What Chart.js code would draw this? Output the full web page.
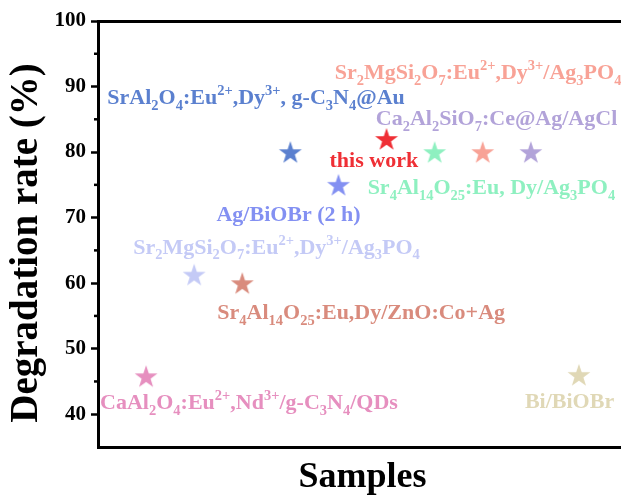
<!DOCTYPE html>
<html>
<head>
<meta charset="utf-8">
<script src="https://cdn.jsdelivr.net/npm/chart.js@4.4.0/dist/chart.umd.min.js"></script>
<style>
  html, body { margin: 0; padding: 0; background: #fff; overflow: hidden; }
  #wrap { width: 640px; height: 499px; }
</style>
</head>
<body>
<div id="wrap"><canvas id="chart" width="640" height="499"></canvas></div>
<script>
// sample names (_{..} = subscript, ^{..} = superscript)
const samples = [
  'CaAl_{2}O_{4}:Eu^{2+},Nd^{3+}/g-C_{3}N_{4}/QDs',
  'Sr_{2}MgSi_{2}O_{7}:Eu^{2+},Dy^{3+}/Ag_{3}PO_{4}',
  'Sr_{4}Al_{14}O_{25}:Eu,Dy/ZnO:Co+Ag',
  'SrAl_{2}O_{4}:Eu^{2+},Dy^{3+}, g-C_{3}N_{4}@Au',
  'Ag/BiOBr (2 h)',
  'this work',
  'Sr_{4}Al_{14}O_{25}:Eu, Dy/Ag_{3}PO_{4}',
  'Sr_{2}MgSi_{2}O_{7}:Eu^{2+},Dy^{3+}/Ag_{3}PO_{4}',
  'Ca_{2}Al_{2}SiO_{7}:Ce@Ag/AgCl',
  'Bi/BiOBr'
];
const sampleIndex = [1, 2, 3, 4, 5, 6, 7, 8, 9, 10];
const degradation = [45.8, 61.3, 60, 80, 75, 82, 80, 80, 80, 46];
const yTicks = [40, 50, 60, 70, 80, 90, 100];
const yTitle = 'Degradation rate (%)';

const colors = ['#e68fbf', '#c4caf6', '#d98b7d', '#5b80cf', '#8390f2',
                '#ef2f35', '#8ef0c0', '#f8a296', '#b2a3d9', '#e0d8b6'];
// label offset from its star, in px (left edge, baseline)
const labelOffset = [[-46, 33], [-61, -21], [-25, 36], [-183, -48], [-122, 36],
                     [-57, 28], [-67, 42], [-148, -73], [-155, -27], [-54, 33]];

const serif = '"Liberation Serif", "Times New Roman", serif';

function starImage(color) {
  const c = document.createElement('canvas');
  c.width = 26; c.height = 26;
  const g = c.getContext('2d');
  g.fillStyle = color;
  g.beginPath();
  for (let i = 0; i < 10; i++) {
    const r = i % 2 ? 4.7 : 12;
    const a = -Math.PI / 2 + i * Math.PI / 5;
    g.lineTo(13 + r * Math.cos(a), 14 + r * Math.sin(a));
  }
  g.closePath();
  g.fill();
  return c;
}

function drawRich(ctx, text, x, y, color) {
  const parts = text.split(/(_\{[^}]*\}|\^\{[^}]*\})/).filter(p => p);
  ctx.fillStyle = color;
  ctx.textBaseline = 'alphabetic';
  ctx.textAlign = 'left';
  parts.forEach(p => {
    let dy = 0, str = p;
    if (p.startsWith('_{')) { ctx.font = 'bold 14.5px ' + serif; dy = 5.5; str = p.slice(2, -1); }
    else if (p.startsWith('^{')) { ctx.font = 'bold 14.5px ' + serif; dy = -9; str = p.slice(2, -1); }
    else ctx.font = 'bold 22px ' + serif;
    ctx.fillText(str, x, y + dy);
    x += ctx.measureText(str).width;
  });
}

const labelPlugin = {
  id: 'labels',
  afterDraw(chart) {
    const {ctx, chartArea, scales: {x, y}} = chart;
    ctx.save();
    // minor ticks
    ctx.strokeStyle = '#000';
    ctx.lineWidth = 2.5;
    for (let v = 45; v < 100; v += 10) {
      const py = y.getPixelForValue(v);
      ctx.beginPath();
      ctx.moveTo(chartArea.left - 4, py);
      ctx.lineTo(chartArea.left, py);
      ctx.stroke();
    }
    // y axis title, a bit below the plot centre as in the figure
    ctx.save();
    ctx.translate(27, (chartArea.top + chartArea.bottom) / 2 + 9);
    ctx.rotate(-Math.PI / 2);
    ctx.font = 'bold 39px ' + serif;
    ctx.fillStyle = '#000';
    ctx.textAlign = 'center';
    ctx.textBaseline = 'middle';
    ctx.fillText(yTitle, 0, 0);
    ctx.restore();

    samples.forEach((s, i) => {
      const px = x.getPixelForValue(sampleIndex[i]);
      const py = y.getPixelForValue(degradation[i]);
      drawRich(ctx, s, px + labelOffset[i][0], py + labelOffset[i][1], colors[i]);
    });
    ctx.restore();
  }
};

const ctx = document.getElementById('chart').getContext('2d');
new Chart(ctx, {
  type: 'scatter',
  data: {
    datasets: [{
      data: sampleIndex.map((v, i) => ({x: v, y: degradation[i]})),
      pointStyle: colors.map(starImage),
      pointRadius: 12,
      backgroundColor: colors,
      borderColor: colors
    }]
  },
  options: {
    responsive: false,
    animation: false,
    devicePixelRatio: 1,
    layout: {padding: {left: 0, right: 11, top: 21, bottom: 0}},
    plugins: {legend: {display: false}, tooltip: {enabled: false}},
    scales: {
      x: {
        type: 'linear', position: 'bottom', min: 0, max: 11,
        ticks: {display: false},
        grid: {display: false, drawTicks: false},
        border: {display: true, color: '#000', width: 3},
        title: {
          display: true, text: 'Samples', color: '#000',
          font: {family: serif, size: 36, weight: 'bold', lineHeight: 1},
          padding: {top: 0, bottom: 3}
        },
        afterFit: s => { s.height = 52; }
      },
      xTop: {
        type: 'linear', position: 'top', min: 0, max: 11,
        ticks: {display: false},
        grid: {display: false, drawTicks: false},
        border: {display: true, color: '#000', width: 3},
        afterFit: s => { s.height = 0; }
      },
      y: {
        min: 35, max: 100,
        afterBuildTicks: s => { s.ticks = yTicks.map(v => ({value: v})); },
        ticks: {
          color: '#000', padding: 5,
          font: {family: serif, size: 21, weight: 'bold'}
        },
        grid: {drawOnChartArea: false, tickLength: 7, tickWidth: 2.5, tickColor: '#000'},
        border: {display: true, color: '#000', width: 3},
        title: {display: false},
        afterFit: s => { s.width = 98; }
      }
    }
  },
  plugins: [labelPlugin]
});
</script>
</body>
</html>
